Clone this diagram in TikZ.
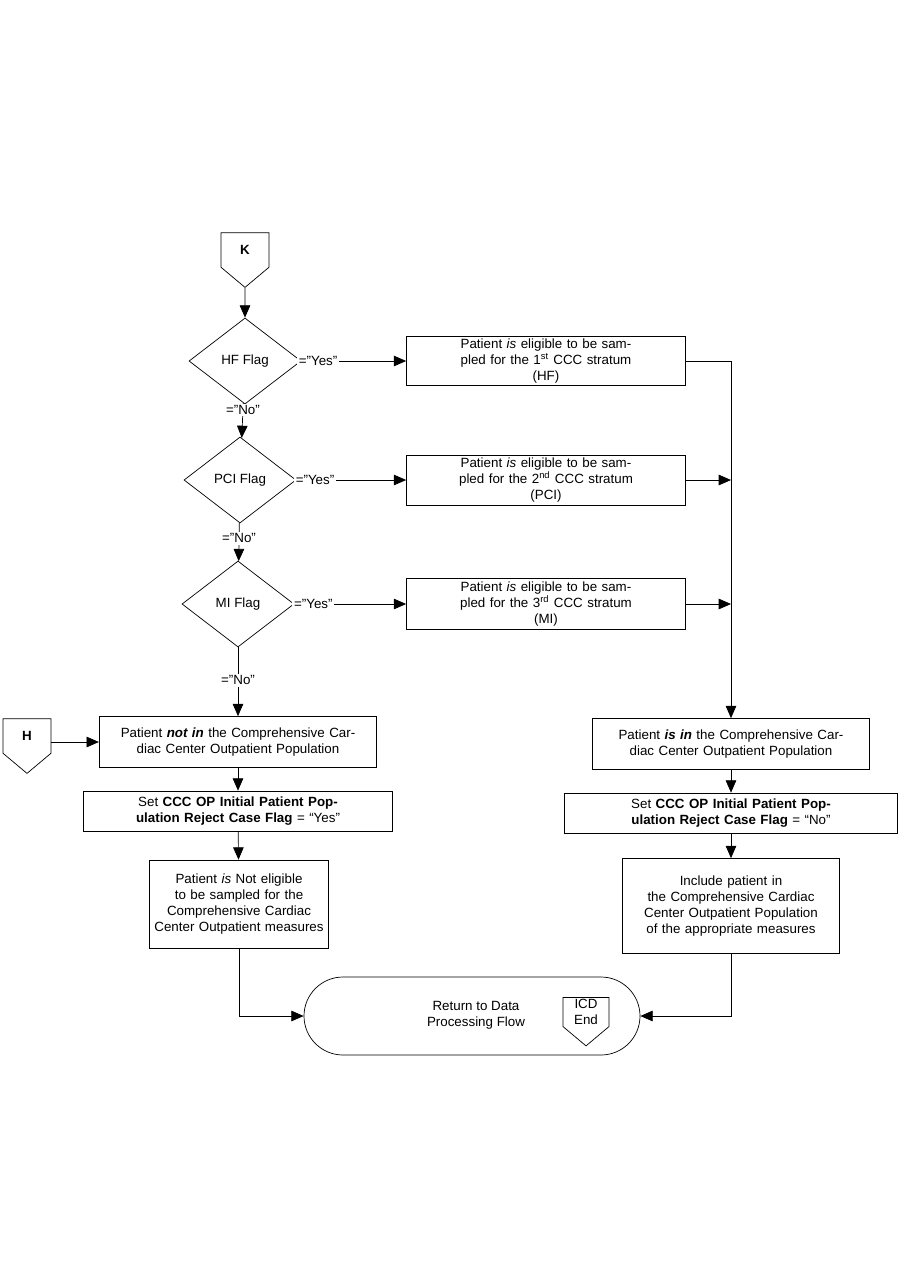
\documentclass[tikz,border=0pt]{standalone}
\usepackage{fontspec}
\setmainfont{Liberation Sans}
\usetikzlibrary{arrows.meta, shapes.geometric, shapes.symbols}

\begin{document}
\begin{tikzpicture}[x=0.02cm, y=-0.02cm,
    every node/.style = {font=\fontsize{7.6}{9.2}\selectfont, align=center, inner sep=1pt},
    box/.style = {draw, rectangle, minimum height=#1*0.02cm},
    decision/.style = {draw, diamond, minimum width=112*0.02cm, minimum height=86*0.02cm, inner sep=0pt, aspect=1.3},
    offpage/.style = {draw, signal, signal to=south, signal pointer angle=100, minimum width=48*0.02cm, minimum height=40*0.02cm, font=\fontsize{7.6}{9.2}\selectfont\bfseries},
    line/.style = {-{Triangle[length=7pt, width=6pt]}},
    baseline=(current bounding box.center)]
  \useasboundingbox (0,0) rectangle (900,1286);
  % left column
  \node[offpage] (k) at (245,250) {K};
  \node[decision] (hf) at (245,361) {HF Flag};
  \node[decision] (pci) at (240,480) {PCI Flag};
  \node[decision] (mi) at (238,604) {MI Flag};
  \node[box=51, text width=274*0.02cm] (notin) at (238,742) {Patient \textbf{\textit{not in}} the Comprehensive Cardiac Center Outpatient Population};
  \node[offpage, font=\fontsize{7.6}{9.2}\selectfont\bfseries] (h) at (27,736) {H};
  \node[box=40, text width=306*0.02cm] (rejyes) at (238,811) {Set \textbf{CCC OP Initial Patient Population Reject Case Flag} = “Yes”};
  \node[box=88, text width=176*0.02cm] (notelig) at (239,904) {Patient \textit{is} Not eligible to be sampled for the Comprehensive Cardiac Center Outpatient measures};
  % strata boxes
  \node[box=49, minimum width=279*0.02cm, text width=274*0.02cm] (s1) at (546,361) {Patient \textit{is} eligible to be sampled for the 1\textsuperscript{st} CCC stratum\\(HF)};
  \node[box=50, minimum width=279*0.02cm, text width=274*0.02cm] (s2) at (546,480) {Patient \textit{is} eligible to be sampled for the 2\textsuperscript{nd} CCC stratum\\(PCI)};
  \node[box=51, minimum width=279*0.02cm, text width=274*0.02cm] (s3) at (546,604) {Patient \textit{is} eligible to be sampled for the 3\textsuperscript{rd} CCC stratum\\(MI)};
  % right column
  \node[box=51, text width=274*0.02cm] (isin) at (731,744) {Patient \textbf{\textit{is in}} the Comprehensive Cardiac Center Outpatient Population};
  \node[box=40, text width=330*0.02cm] (rejno) at (731,813) {Set \textbf{CCC OP Initial Patient Population Reject Case Flag} = “No”};
  \node[box=95, text width=214*0.02cm] (incl) at (731,906) {Include patient in\\the Comprehensive Cardiac Center Outpatient Population of the appropriate measures};
  \node[draw, rounded corners=39*0.02cm, minimum width=336*0.02cm, minimum height=78*0.02cm] (ret) at (472,1016) {};
  \node (rettext) at (476,1015) {Return to Data\\Processing Flow};
  \node[offpage, font=\fontsize{7.6}{9.2}\selectfont, minimum width=46*0.02cm, minimum height=36*0.02cm] (icd) at (586,1012) {ICD\\End};
  \coordinate (join) at (731,361);

  \draw[line] (k) -- (hf);
  \draw[line] (hf) -- node[pos=0.2, fill=white] {=”No”} (pci);
  \draw[line] (pci) -- node[pos=0.4, fill=white] {=”No”} (mi);
  \draw[line] (mi) -- node[pos=0.48, fill=white] {=”No”} (notin);
  \draw[line] (hf.east) -- node[pos=0.16, fill=white] {=”Yes”} (s1);
  \draw[line] (pci.east) -- node[pos=0.17, fill=white] {=”Yes”} (s2);
  \draw[line] (mi.east) -- node[pos=0.17, fill=white] {=”Yes”} (s3);
  \draw[line] (h.east |- notin) -- (notin);
  \draw[line] (notin) -- (rejyes);
  \draw[line] (rejyes) -- (notelig);
  \draw[line] (notelig) |- (ret);
  \draw (s1) -- (join);
  \draw[line] (join) -- (isin);
  \draw[line] (s2) -- (s2 -| join);
  \draw[line] (s3) -- (s3 -| join);
  \draw[line] (isin) -- (rejno);
  \draw[line] (rejno) -- (incl);
  \draw[line] (incl) |- (ret);
\end{tikzpicture}
\end{document}
